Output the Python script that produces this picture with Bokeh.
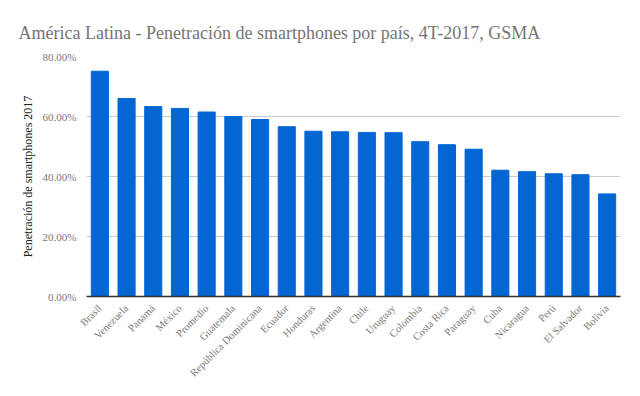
from bokeh.plotting import figure
from bokeh.models import Range1d, NumeralTickFormatter, ColumnDataSource
from bokeh.embed import file_html
from bokeh.resources import INLINE
from math import pi

countries = ["Brasil", "Venezuela", "Panamá", "México", "Promedio", "Guatemala",
             "República Dominicana", "Ecuador", "Honduras", "Argentina", "Chile",
             "Uruguay", "Colombia", "Costa Rica", "Paraguay", "Cuba", "Nicaragua",
             "Perú", "El Salvador", "Bolivia"]
penetration = [0.751, 0.660, 0.633, 0.627, 0.615, 0.600, 0.590, 0.566, 0.551,
               0.549, 0.547, 0.546, 0.516, 0.506, 0.491, 0.421, 0.416, 0.409,
               0.406, 0.342]

FONT = "Liberation Serif"

src = ColumnDataSource(dict(x=countries, y=penetration))

p = figure(frame_width=534, frame_height=240, x_range=countries,
           y_range=Range1d(0, 0.8),
           output_backend="svg", toolbar_location=None,
           min_border_left=86, min_border_right=4, min_border_top=56,
           min_border_bottom=10)

p.vbar(x="x", top="y", width=0.64, source=src, color="#0366d2")

p.title.text = "América Latina - Penetración de smartphones por país, 4T-2017, GSMA"
p.title.text_font = FONT
p.title.text_font_size = "18px"
p.title.text_font_style = "normal"
p.title.text_color = "#757575"
p.title.align = "left"
p.title.offset = -68
p.title.standoff = 28

p.outline_line_color = None
p.xgrid.grid_line_color = None
p.ygrid.grid_line_color = "#cccccc"
p.ygrid.grid_line_width = 1

p.yaxis.ticker = [0, 0.2, 0.4, 0.6, 0.8]
p.yaxis.formatter = NumeralTickFormatter(format="0.00%")
p.yaxis.axis_line_color = None
p.yaxis.major_tick_line_color = None
p.yaxis.minor_tick_line_color = None
p.yaxis.major_label_text_font = FONT
p.yaxis.major_label_text_font_size = "11px"
p.yaxis.major_label_text_color = "#777777"
p.yaxis.major_label_standoff = 4
p.yaxis.axis_label = "Penetración de smartphones 2017"
p.yaxis.axis_label_text_font = FONT
p.yaxis.axis_label_text_font_size = "12px"
p.yaxis.axis_label_text_font_style = "normal"
p.yaxis.axis_label_text_color = "#222222"
p.yaxis.axis_label_standoff = 5

p.xaxis.axis_line_color = "#333333"
p.xaxis.axis_line_width = 1.5
p.xaxis.major_tick_line_color = None
p.xaxis.minor_tick_line_color = None
p.xaxis.major_label_orientation = pi / 4
p.xaxis.major_label_text_font = FONT
p.xaxis.major_label_text_font_size = "10.5px"
p.xaxis.major_label_text_color = "#777777"
p.xaxis.major_label_standoff = 4

open("out.html", "w").write(file_html(p, INLINE))
